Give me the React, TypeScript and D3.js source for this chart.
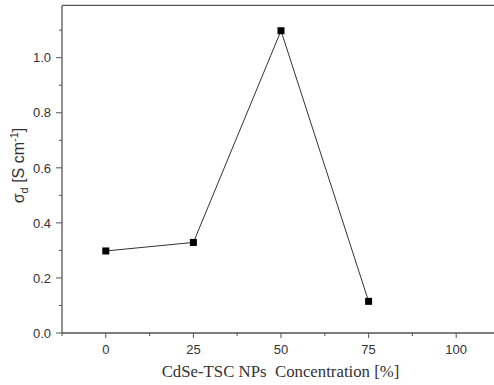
import React from "react";
import * as d3 from "d3";

const concentrations = [0, 25, 50, 75];
const sigmaValues = [0.298, 0.329, 1.098, 0.115];
const xTicks = [0, 25, 50, 75, 100];
const xMinor = [-12.5, 12.5, 37.5, 62.5, 87.5, 112.5];
const yTicks = [0, 0.2, 0.4, 0.6, 0.8, 1.0];
const yMinor = [0.1, 0.3, 0.5, 0.7, 0.9, 1.1];

export default function App() {
  const W = 494, H = 385;
  const x = d3.scaleLinear().domain([-12.5, 112.5]).range([62, 500]);
  const y = d3.scaleLinear().domain([0, 1.19]).range([333, 5.4]);
  const pts = concentrations.map((c, i) => [c, sigmaValues[i]] as [number, number]);
  const line = d3.line<[number, number]>().x(d => x(d[0])).y(d => y(d[1]));
  const axisColor = "#555";
  const sans = "'Liberation Sans', Arial, sans-serif";
  const serif = "'Liberation Serif', 'Times New Roman', serif";
  return (
    <svg width={W} height={H} style={{ position: "absolute", left: 0, top: 0, background: "#fff" }}>
      {/* frame */}
      <line x1={x(-12.5)} x2={W} y1={y(1.19)} y2={y(1.19)} stroke={axisColor} strokeWidth={1.3} />
      <line x1={x(-12.5)} x2={x(-12.5)} y1={y(1.19)} y2={y(0)} stroke={axisColor} strokeWidth={1.3} />
      <line x1={x(-12.5)} x2={W} y1={y(0)} y2={y(0)} stroke={axisColor} strokeWidth={1.3} />
      {/* y ticks */}
      {yTicks.map(t => (
        <g key={"y" + t}>
          <line x1={x(-12.5) - 6} x2={x(-12.5)} y1={y(t)} y2={y(t)} stroke={axisColor} strokeWidth={1} />
          <text x={x(-12.5) - 11} y={y(t)} dy="0.36em" textAnchor="end" fontFamily={sans} fontSize={13} fill="#333">
            {t.toFixed(1)}
          </text>
        </g>
      ))}
      {yMinor.map(t => (
        <line key={"ym" + t} x1={x(-12.5) - 3} x2={x(-12.5)} y1={y(t)} y2={y(t)} stroke={axisColor} strokeWidth={1} />
      ))}
      {/* x ticks */}
      {xTicks.map(t => (
        <g key={"x" + t}>
          <line x1={x(t)} x2={x(t)} y1={y(0)} y2={y(0) + 5} stroke={axisColor} strokeWidth={1} />
          <text x={x(t)} y={354} textAnchor="middle" fontFamily={sans} fontSize={13} fill="#333">
            {t}
          </text>
        </g>
      ))}
      {xMinor.map(t => (
        <line key={"xm" + t} x1={x(t)} x2={x(t)} y1={y(0)} y2={y(0) + 3} stroke={axisColor} strokeWidth={1} />
      ))}
      {/* data */}
      <path d={line(pts) || ""} fill="none" stroke="#333" strokeWidth={1} />
      {pts.map((p, i) => (
        <rect key={i} x={x(p[0]) - 3.5} y={y(p[1]) - 3.5} width={7} height={7} fill="#000" />
      ))}
      {/* axis labels */}
      <text x={280.5} y={377} textAnchor="middle" fontFamily={serif} fontSize={16.8} fill="#333">
        CdSe-TSC NPs&#160; Concentration [%]
      </text>
      <text transform={`translate(24,${165.5}) rotate(-90)`} textAnchor="middle" fontFamily={sans} fontSize={16} fill="#333">
        <tspan>σ</tspan>
        <tspan dy={4} fontSize={11}>d</tspan>
        <tspan dy={-4}> [S cm</tspan>
        <tspan dy={-6.5} fontSize={11}>-1</tspan>
        <tspan dy={6.5}>]</tspan>
      </text>
    </svg>
  );
}
